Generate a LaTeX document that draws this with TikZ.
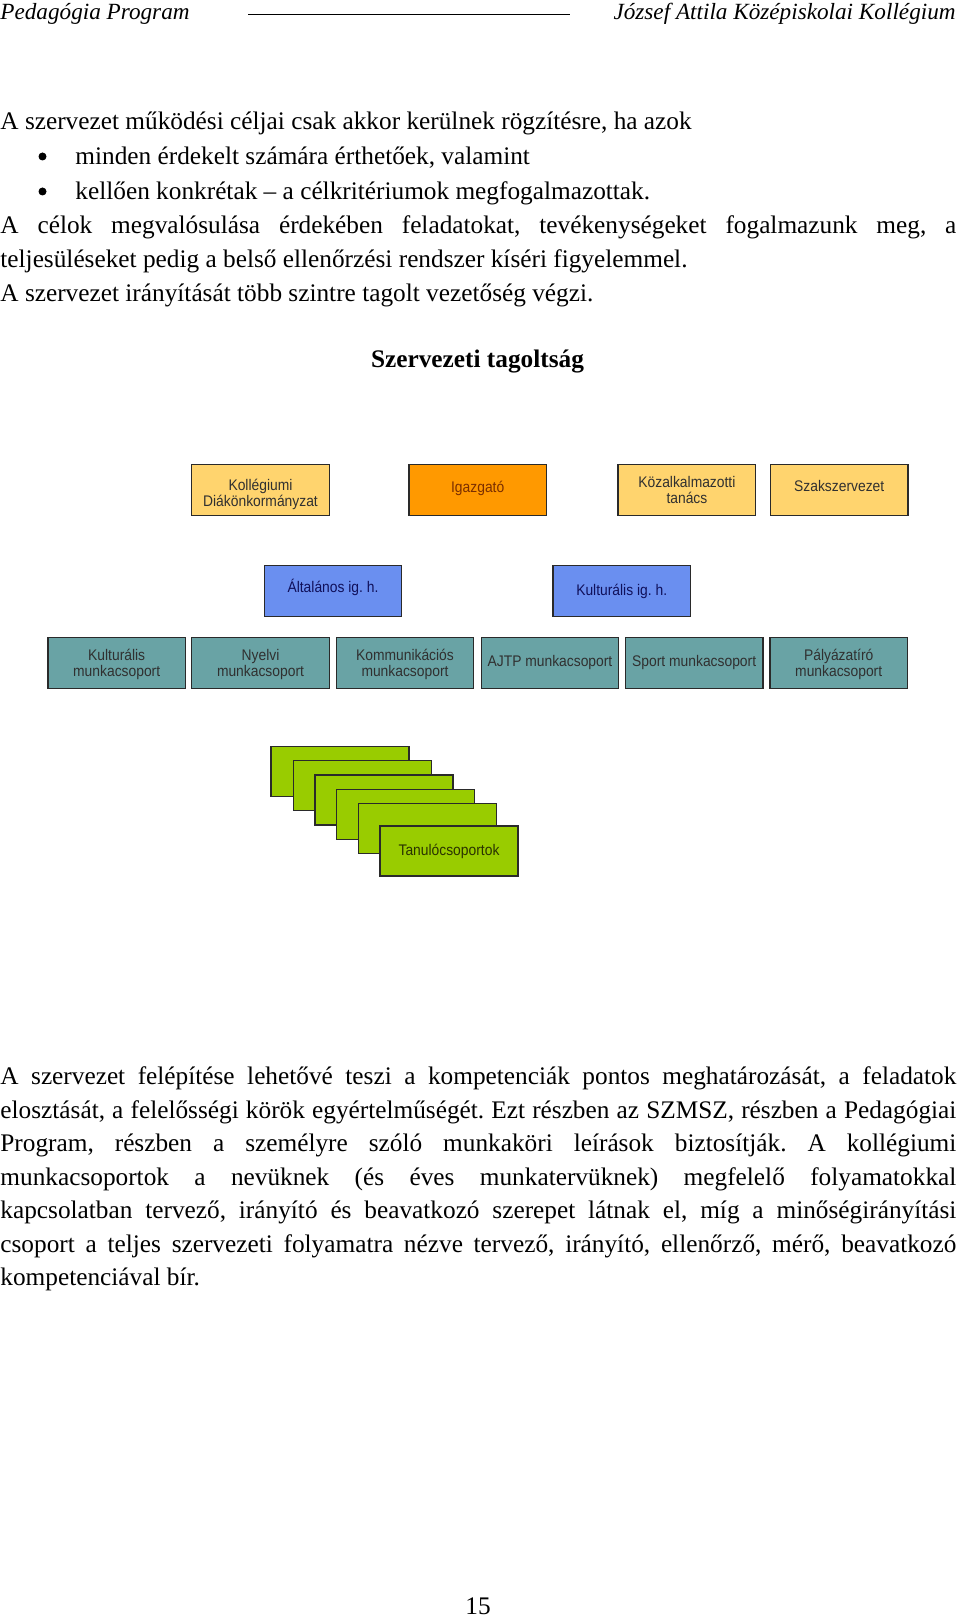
\documentclass[tikz,border=0pt]{standalone}
\usepackage{fontspec}
\setmainfont{Liberation Serif}
\newfontfamily\boxfont[FakeStretch=0.9]{Liberation Sans}
\def\upx{0.4743pt}
\frenchspacing
\definecolor{ylw}{HTML}{FFD46E}
\definecolor{org}{HTML}{FF9900}
\definecolor{blu}{HTML}{6A8FF0}
\definecolor{tea}{HTML}{69A3A5}
\definecolor{grn}{HTML}{99CC00}
\definecolor{bord}{HTML}{2A2A2A}
\definecolor{orgtxt}{HTML}{7A2E00}
\definecolor{blutxt}{HTML}{10105A}
\definecolor{graytxt}{HTML}{303030}
\definecolor{grntxt}{HTML}{2A3300}
\tikzset{
  txt/.style={inner sep=0pt, anchor=base west, font=\fontsize{12pt}{14pt}\selectfont},
  hdr/.style={inner sep=0pt, anchor=base, font=\fontsize{11pt}{13pt}\selectfont\itshape},
  bul/.style={inner sep=0pt, anchor=base, font=\fontsize{12pt}{14pt}\selectfont},
  dot/.style={circle, fill=black, inner sep=0pt, minimum size=8*\upx},
  lbl/.style={inner sep=0pt, align=center, font=\boxfont\fontsize{7.3pt}{7.6pt}\selectfont},
  orgbox/.style={draw=bord, line width=0.62pt, inner sep=0pt, align=center,
    minimum width=137.6*\upx, minimum height=51*\upx,
    font=\boxfont\fontsize{7.3pt}{7.6pt}\selectfont},
  ybox/.style={orgbox, fill=ylw, text=graytxt},
  obox/.style={orgbox, fill=org, text=orgtxt},
  bbox/.style={orgbox, fill=blu, text=blutxt},
  tbox/.style={orgbox, fill=tea, text=graytxt},
  gbox/.style={orgbox, fill=grn, text=grntxt, minimum height=50*\upx, minimum width=138*\upx},
}
\begin{document}
\begin{tikzpicture}[x=0.4743pt, y=-0.4743pt]
\fill[white] (0,0) rectangle (960,1620);
\useasboundingbox (0,0) rectangle (960,1620);

% header
\node[hdr, anchor=base west] (h1) at (0,20) {Pedagógia Program};
\node[hdr, anchor=base east] (h2) at (956,20) {József Attila Középiskolai Kollégium};
\coordinate (hl1) at (248,14.5);
\coordinate (hl2) at (570,14.5);
\draw[line width=0.7pt, black] (hl1) -- (hl2);

% top text
\node[txt] (t1) at (0,130) {A szervezet működési céljai csak akkor kerülnek rögzítésre, ha azok};
\node[dot] (b1) at (42.5,156.5) {};
\node[txt] (t2) at (75,165) {minden érdekelt számára érthetőek, valamint};
\node[dot] (b2) at (42.5,191.5) {};
\node[txt] (t3) at (75,200) {kellően konkrétak – a célkritériumok megfogalmazottak.};
\node[txt] (t4) at (0,234) {\makebox[453.4pt][s]{A célok megvalósulása érdekében feladatokat, tevékenységeket fogalmazunk meg, a}};
\node[txt] (t5) at (0,268) {teljesüléseket pedig a belső ellenőrzési rendszer kíséri figyelemmel.};
\node[txt] (t6) at (0,301) {A szervezet irányítását több szintre tagolt vezetőség végzi.};

% title
\node[bul, font=\fontsize{12pt}{14pt}\selectfont\bfseries] (title) at (477.5,367) {Szervezeti tagoltság};

% row 1
\node[ybox, label={[lbl, text=graytxt, yshift=-4.7*\upx]center:{Kollégiumi\\Diákönkormányzat}}] (kdo) at (260.5,490) {};
\node[obox, label={[lbl, text=orgtxt, yshift=1.7*\upx]center:{Igazgató}}] (igazgato) at (477.7,490) {};
\node[ybox] (kat) at (686.9,490) {Közalkalmazotti\\tanács};
\node[ybox, label={[lbl, text=graytxt, yshift=4*\upx]center:{Szakszervezet}}] (szak) at (839.2,490) {};

% row 2
\node[bbox, label={[lbl, text=blutxt, yshift=4*\upx]center:{Általános ig. h.}}] (altig) at (333,591.3) {};
\node[bbox] (kultig) at (621.7,591.3) {Kulturális ig. h.};

% row 3
\node[tbox, label={[lbl, text=graytxt, yshift=-1.7*\upx]center:{Kulturális\\munkacsoport}}] (m1) at (116.7,662.8) {};
\node[tbox, label={[lbl, text=graytxt, yshift=-1.7*\upx]center:{Nyelvi\\munkacsoport}}] (m2) at (260.5,662.8) {};
\node[tbox, label={[lbl, text=graytxt, yshift=-1.7*\upx]center:{Kommunikációs\\munkacsoport}}] (m3) at (405,662.8) {};
\node[tbox] (m4) at (550,662.8) {AJTP munkacsoport};
\node[tbox] (m5) at (694.2,662.8) {Sport munkacsoport};
\node[tbox, label={[lbl, text=graytxt, yshift=-1.7*\upx]center:{Pályázatíró\\munkacsoport}}] (m6) at (838.7,662.8) {};

% stack of study groups
\node[gbox] (g1) at (340,771.7) {};
\node[gbox] (g2) at (362.3,785.7) {};
\node[gbox] (g3) at (384,800) {};
\node[gbox] (g4) at (405.7,814.3) {};
\node[gbox] (g5) at (427.3,828.7) {};
\node[gbox] (g6) at (449,851) {Tanulócsoportok};

% bottom paragraph
\node[txt] (p1) at (0,1084.5) {\makebox[453.4pt][s]{A szervezet felépítése lehetővé teszi a kompetenciák pontos meghatározását, a feladatok}};
\node[txt] (p2) at (0,1118) {\makebox[453.4pt][s]{elosztását, a felelősségi körök egyértelműségét. Ezt részben az SZMSZ, részben a Pedagógiai}};
\node[txt] (p3) at (0,1151.5) {\makebox[453.4pt][s]{Program, részben a személyre szóló munkaköri leírások biztosítják. A kollégiumi}};
\node[txt] (p4) at (0,1185) {\makebox[453.4pt][s]{munkacsoportok a nevüknek (és éves munkatervüknek) megfelelő folyamatokkal}};
\node[txt] (p5) at (0,1218.5) {\makebox[453.4pt][s]{kapcsolatban tervező, irányító és beavatkozó szerepet látnak el, míg a minőségirányítási}};
\node[txt] (p6) at (0,1252) {\makebox[453.4pt][s]{csoport a teljes szervezeti folyamatra nézve tervező, irányító, ellenőrző, mérő, beavatkozó}};
\node[txt] (p7) at (0,1285.5) {kompetenciával bír.};

% page number
\node[bul] (pn) at (478,1614) {15};
\end{tikzpicture}
\end{document}
